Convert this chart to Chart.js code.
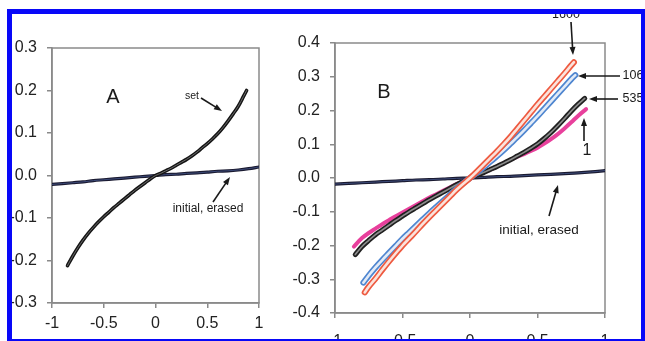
<!DOCTYPE html>
<html>
<head>
<meta charset="utf-8">
<script src="https://cdn.jsdelivr.net/npm/chart.js@4.4.1/dist/chart.umd.min.js"></script>
<style>
  html, body { margin: 0; padding: 0; background: #fff; }
  body { width: 645px; height: 341px; position: relative; overflow: hidden; }
  #chart-a { position: absolute; left: 0; top: 0; }
  #chart-b { position: absolute; left: 280px; top: 0; }
  #frame {
    position: absolute; left: 7px; top: 9px; width: 639px; height: 335px;
    border: 5px solid #0808f8; box-sizing: border-box; pointer-events: none;
  }
</style>
</head>
<body>
<canvas id="chart-a" width="275" height="341"></canvas>
<canvas id="chart-b" width="365" height="341"></canvas>
<div id="frame"></div>
<script>
// panel A
const aSetX = [-0.85,-0.8,-0.75,-0.7,-0.65,-0.6,-0.55,-0.5,-0.45,-0.4,-0.35,-0.3,-0.25,-0.2,-0.15,-0.1,-0.05,0,
  0.05,0.1,0.15,0.2,0.25,0.3,0.35,0.4,0.45,0.5,0.55,0.6,0.65,0.7,0.75,0.8,0.85,0.88];
const aSetY = [-0.212,-0.19,-0.17,-0.152,-0.136,-0.122,-0.109,-0.097,-0.086,-0.075,-0.065,-0.055,-0.045,-0.035,-0.026,-0.017,-0.008,0,
  0.005,0.011,0.017,0.024,0.031,0.038,0.046,0.055,0.065,0.075,0.086,0.098,0.112,0.128,0.145,0.163,0.186,0.2];

const flatX = [-1,-0.9,-0.8,-0.7,-0.6,-0.5,-0.4,-0.3,-0.2,-0.1,0,0.1,0.2,0.3,0.4,0.5,0.6,0.7,0.8,0.9,1];
const aFlatY = [-0.021,-0.019,-0.017,-0.015,-0.012,-0.010,-0.008,-0.006,-0.004,-0.002,0,0.002,0.003,0.005,0.006,0.008,0.010,0.011,0.013,0.016,0.020];

// panel B
const bFlatY = [-0.018,-0.016,-0.014,-0.012,-0.010,-0.008,-0.006,-0.005,-0.003,-0.001,0,0.002,0.004,0.005,0.007,0.009,0.011,0.013,0.015,0.018,0.022];

const redX = [-0.78,-0.75,-0.7,-0.65,-0.6,-0.55,-0.5,-0.45,-0.4,-0.35,-0.3,-0.25,-0.2,-0.15,-0.1,-0.05,0,
  0.05,0.1,0.15,0.2,0.25,0.3,0.35,0.4,0.45,0.5,0.55,0.6,0.65,0.7,0.75,0.77];
const redY = [-0.339,-0.322,-0.298,-0.272,-0.247,-0.223,-0.2,-0.179,-0.158,-0.136,-0.115,-0.095,-0.075,-0.055,-0.035,-0.017,0,
  0.019,0.039,0.059,0.079,0.1,0.122,0.146,0.17,0.194,0.218,0.241,0.264,0.287,0.31,0.334,0.343];

const blueX = [-0.79,-0.75,-0.7,-0.65,-0.6,-0.55,-0.5,-0.45,-0.4,-0.35,-0.3,-0.25,-0.2,-0.15,-0.1,-0.05,0,
  0.05,0.1,0.15,0.2,0.25,0.3,0.35,0.4,0.45,0.5,0.55,0.6,0.65,0.7,0.75,0.78];
const blueY = [-0.31,-0.289,-0.265,-0.243,-0.222,-0.201,-0.18,-0.161,-0.142,-0.123,-0.104,-0.086,-0.068,-0.05,-0.032,-0.015,0,
  0.015,0.031,0.048,0.065,0.083,0.102,0.121,0.141,0.162,0.183,0.205,0.227,0.249,0.271,0.293,0.305];

const blackX = [-0.85,-0.8,-0.75,-0.7,-0.65,-0.6,-0.55,-0.5,-0.45,-0.4,-0.35,-0.3,-0.25,-0.2,-0.15,-0.1,-0.05,0,
  0.05,0.1,0.15,0.2,0.25,0.3,0.35,0.4,0.45,0.5,0.55,0.6,0.65,0.7,0.75,0.8,0.85];
const blackY = [-0.227,-0.203,-0.185,-0.168,-0.154,-0.14,-0.126,-0.113,-0.1,-0.088,-0.076,-0.064,-0.053,-0.042,-0.031,-0.02,-0.01,0,
  0.008,0.016,0.025,0.034,0.044,0.054,0.065,0.076,0.088,0.101,0.117,0.135,0.155,0.176,0.198,0.218,0.236];

const pinkX = [-0.86,-0.8,-0.75,-0.7,-0.65,-0.6,-0.55,-0.5,-0.45,-0.4,-0.35,-0.3,-0.25,-0.2,-0.15,-0.1,-0.05,0,
  0.05,0.1,0.15,0.2,0.25,0.3,0.35,0.4,0.45,0.5,0.55,0.6,0.65,0.7,0.75,0.8,0.86];
const pinkY = [-0.203,-0.178,-0.163,-0.15,-0.137,-0.125,-0.113,-0.102,-0.091,-0.08,-0.069,-0.058,-0.048,-0.038,-0.028,-0.018,-0.009,0,
  0.008,0.016,0.025,0.034,0.044,0.054,0.063,0.071,0.08,0.09,0.102,0.115,0.13,0.147,0.165,0.184,0.204];

const xTicks = [-1, -0.5, 0, 0.5, 1];

Chart.defaults.font.family = '"Liberation Sans", Arial, sans-serif';
Chart.defaults.font.size = 16;
Chart.defaults.color = "#222";

const pts = (xs, ys) => xs.map((x, i) => ({ x: x, y: ys[i] }));

// a series drawn as a hollow tube: wide coloured stroke with a pale core
function tube(xs, ys, color, core, width, coreWidth) {
  const base = {
    data: pts(xs, ys),
    showLine: true,
    pointRadius: 0,
    cubicInterpolationMode: "monotone",
    borderCapStyle: "round",
    borderJoinStyle: "round",
  };
  const sets = [];
  if (core) sets.push({ ...base, borderColor: core, borderWidth: coreWidth });
  sets.push({ ...base, borderColor: color, borderWidth: width });
  return sets;
}

function arrow(ctx, x1, y1, x2, y2) {
  const ang = Math.atan2(y2 - y1, x2 - x1);
  ctx.beginPath();
  ctx.moveTo(x1, y1);
  ctx.lineTo(x2 - 5 * Math.cos(ang), y2 - 5 * Math.sin(ang));
  ctx.stroke();
  ctx.beginPath();
  ctx.moveTo(x2, y2);
  ctx.lineTo(x2 - 8 * Math.cos(ang) + 3 * Math.sin(ang), y2 - 8 * Math.sin(ang) - 3 * Math.cos(ang));
  ctx.lineTo(x2 - 8 * Math.cos(ang) - 3 * Math.sin(ang), y2 - 8 * Math.sin(ang) + 3 * Math.cos(ang));
  ctx.closePath();
  ctx.fill();
}

// box round the plot area + text labels and arrows
function notes(items) {
  return {
    id: "notes",
    beforeDatasetsDraw(chart) {
      const { ctx, chartArea: a } = chart;
      ctx.save();
      ctx.strokeStyle = "#8a8a8a";
      ctx.lineWidth = 1.5;
      ctx.strokeRect(a.left, a.top, a.right - a.left, a.bottom - a.top);
      ctx.restore();
    },
    afterDraw(chart) {
      const ctx = chart.ctx;
      ctx.save();
      ctx.fillStyle = "#1a1a1a";
      ctx.strokeStyle = "#1a1a1a";
      ctx.lineWidth = 1.6;
      ctx.textAlign = "center";
      ctx.textBaseline = "middle";
      items.forEach((it) => {
        if (it.text) {
          ctx.font = it.size + 'px "Liberation Sans", Arial, sans-serif';
          ctx.fillText(it.text, it.x, it.y);
        } else {
          arrow(ctx, it.x1, it.y1, it.x2, it.y2);
        }
      });
      ctx.restore();
    },
  };
}

function makeOptions(yMin, yMax, yWidth, xHeight, pad, xPad) {
  return {
    responsive: false,
    animation: false,
    layout: { padding: pad },
    plugins: { legend: { display: false }, tooltip: { enabled: false } },
    scales: {
      x: {
        type: "linear",
        min: -1,
        max: 1,
        afterBuildTicks: (s) => { s.ticks = xTicks.map((v) => ({ value: v })); },
        afterFit: (s) => { s.height = xHeight; },
        ticks: { padding: xPad, callback: (v) => String(v) },
        grid: { drawOnChartArea: false, tickLength: 5, color: "#8a8a8a", lineWidth: 1.5 },
        border: { color: "#8a8a8a", width: 1.5 },
      },
      y: {
        min: yMin,
        max: yMax,
        ticks: { stepSize: 0.1, padding: 10, callback: (v) => (Math.abs(v) < 1e-9 ? "0.0" : v.toFixed(1)) },
        afterFit: (s) => { s.width = yWidth; },
        grid: { drawOnChartArea: false, tickLength: 5, color: "#8a8a8a", lineWidth: 1.5 },
        border: { color: "#8a8a8a", width: 1.5 },
      },
    },
  };
}

new Chart(document.getElementById("chart-a"), {
  type: "scatter",
  data: {
    datasets: [
      ...tube(aSetX, aSetY, "#151515", "#6a6a6a", 3.6, 1),
      ...tube(flatX, aFlatY, "#1a1a30", "#3c4a78", 3.2, 1),
    ],
  },
  options: makeOptions(-0.3, 0.3, 52, 38, { top: 48, right: 16, left: 0, bottom: 0 }, 6),
  plugins: [
    notes([
      { text: "A", x: 113, y: 97, size: 20 },
      { text: "set", x: 192, y: 96, size: 10.5 },
      { x1: 201, y1: 98, x2: 222, y2: 111 },
      { text: "initial, erased", x: 208, y: 209, size: 12 },
      { x1: 213, y1: 202, x2: 230, y2: 177 },
    ]),
  ],
});

new Chart(document.getElementById("chart-b"), {
  type: "scatter",
  data: {
    datasets: [
      ...tube(redX, redY, "#ee5a40", "#fbe3dc", 6, 2.6),
      ...tube(blueX, blueY, "#4f86d0", "#e2ebf7", 6, 2.6),
      ...tube(blackX, blackY, "#202020", "#8c8c8c", 5, 1.6),
      ...tube(pinkX, pinkY, "#e8409c", null, 4, 0),
      ...tube(flatX, bFlatY, "#1a1a30", "#3c4a78", 3.2, 1),
    ],
  },
  options: makeOptions(-0.4, 0.4, 55, 28, { top: 43, right: 40, left: 0, bottom: 0 }, 14),
  plugins: [
    notes([
      { text: "B", x: 104, y: 92, size: 20 },
      { text: "1600", x: 286, y: 15, size: 12.5 },
      { x1: 291, y1: 22, x2: 293, y2: 55 },
      { text: "106", x: 353, y: 76, size: 12.5 },
      { x1: 340, y1: 76, x2: 298, y2: 76 },
      { text: "535", x: 353, y: 99, size: 12.5 },
      { x1: 338, y1: 99, x2: 309, y2: 99 },
      { text: "1", x: 307, y: 151, size: 16 },
      { x1: 304, y1: 141, x2: 304, y2: 118 },
      { text: "initial, erased", x: 259, y: 230, size: 13.5 },
      { x1: 269, y1: 216, x2: 278, y2: 185 },
    ]),
  ],
});
</script>
</body>
</html>
